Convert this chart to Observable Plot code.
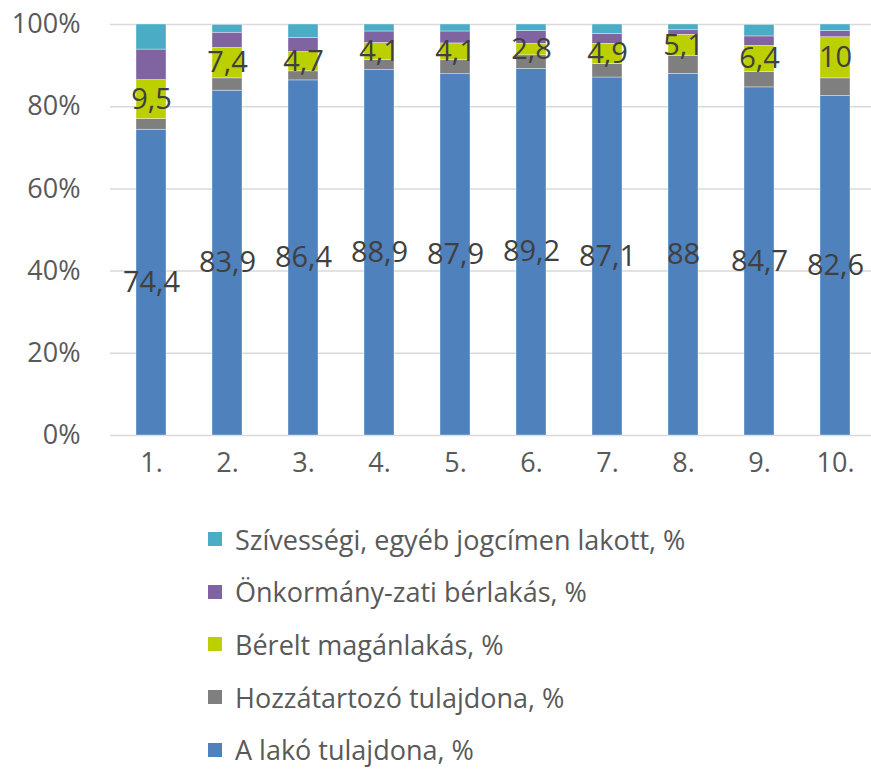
<!DOCTYPE html>
<html>
<head>
<meta charset="utf-8">
<script src="https://cdn.jsdelivr.net/npm/d3@7"></script>
<script src="https://cdn.jsdelivr.net/npm/@observablehq/plot@0.6"></script>
<style>
  body { margin: 0; background: #fff; font-family: "Open Sans", sans-serif; overflow: hidden; }
  #legend { margin-left: 208px; margin-top: 13px; color: #595959; font-size: 27px; }
  .row { display: flex; align-items: center; height: 52.6px; }
  .sw { width: 14px; height: 14px; margin-right: 13px; }
</style>
</head>
<body>
<div id="chart"></div>
<div id="legend"></div>
<script>
const categories = ["1.", "2.", "3.", "4.", "5.", "6.", "7.", "8.", "9.", "10."];
const seriesNames = [
  "A lakó tulajdona, %",
  "Hozzátartozó tulajdona, %",
  "Bérelt magánlakás, %",
  "Önkormány-zati bérlakás, %",
  "Szívességi, egyéb jogcímen lakott, %"
];
const colors = ["#4f81bd", "#7f7f7f", "#bcd000", "#8064a2", "#4bacc6"];
const lako = [74.4, 83.9, 86.4, 88.9, 87.9, 89.2, 87.1, 88, 84.7, 82.6];
const hozzatartozo = [2.6, 3.0, 2.2, 2.5, 3.4, 3.3, 3.3, 4.4, 3.7, 4.3];
const berelt = [9.5, 7.4, 4.7, 4.1, 4.1, 2.8, 4.9, 5.1, 6.4, 10];
const onkormanyzati = [7.4, 3.7, 3.4, 2.8, 2.9, 3.1, 2.4, 1.1, 2.3, 1.5];
const szivessegi = [6.1, 1.9, 3.3, 1.7, 1.7, 1.6, 2.3, 1.4, 2.8, 1.6];
const yTicks = [0, 20, 40, 60, 80, 100];

const seriesValues = [lako, hozzatartozo, berelt, onkormanyzati, szivessegi];
const rows = [];
seriesNames.forEach((s, si) => {
  categories.forEach((c, ci) => rows.push({cat: c, series: s, value: seriesValues[si][ci], si}));
});

// labels: own-property (blue) and private rental (green) series, centred in their segment
const fmt = v => String(v).replace(".", ",");
const labels = [];
categories.forEach((c, ci) => {
  labels.push({cat: c, y: lako[ci] / 2, text: fmt(lako[ci])});
  const base = lako[ci] + hozzatartozo[ci];
  labels.push({cat: c, y: base + berelt[ci] / 2, text: fmt(berelt[ci])});
});

const chart = Plot.plot({
  width: 871,
  height: 500,
  marginLeft: 110,
  marginRight: 0,
  marginTop: 24,
  marginBottom: 65,
  style: {fontFamily: "Open Sans, sans-serif", color: "#595959", background: "#fff"},
  x: {domain: categories, range: [110, 876], paddingInner: 0.6, paddingOuter: 0.3, label: null},
  y: {domain: [0, 100], label: null},
  color: {domain: seriesNames, range: colors},
  marks: [
    Plot.ruleY(yTicks, {stroke: "#d9d9d9", strokeWidth: 1.5}),
    Plot.barY(rows, Plot.stackY({
      x: "cat", y: "value", fill: "series", z: "series",
      order: seriesNames, stroke: "#ffffff", strokeWidth: 0.6, strokeOpacity: 0.6
    })),
    Plot.text(labels, {x: "cat", y: "y", text: "text", fill: "#404040", fontSize: 29}),
    Plot.axisY(yTicks, {tickSize: 0, tickPadding: 30, tickFormat: d => d + "%", fontSize: 27, label: null}),
    Plot.axisX({tickSize: 0, tickPadding: 17, fontSize: 27, label: null})
  ]
});
document.getElementById("chart").appendChild(chart);

const legend = document.getElementById("legend");
for (let i = seriesNames.length - 1; i >= 0; i--) {
  const row = document.createElement("div");
  row.className = "row";
  const sw = document.createElement("div");
  sw.className = "sw";
  sw.style.background = colors[i];
  const t = document.createElement("span");
  t.textContent = seriesNames[i];
  row.appendChild(sw);
  row.appendChild(t);
  legend.appendChild(row);
}
</script>
</body>
</html>
